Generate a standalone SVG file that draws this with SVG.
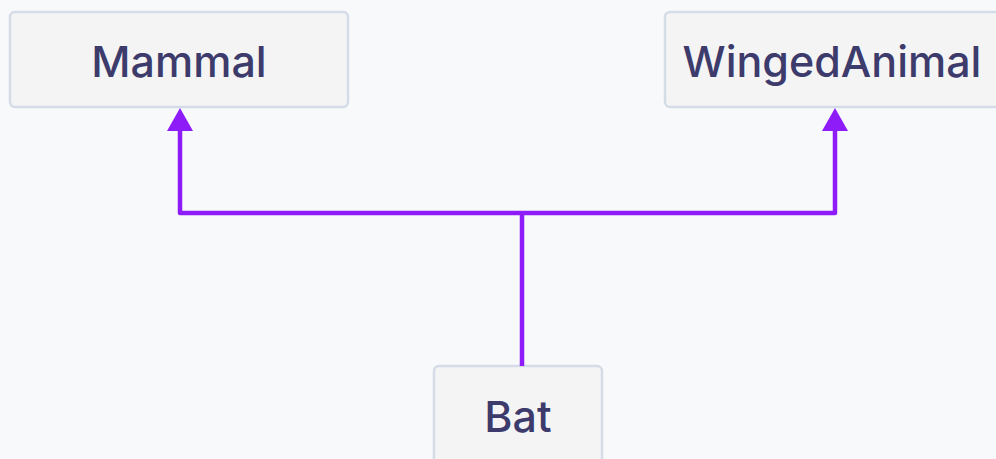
<svg xmlns="http://www.w3.org/2000/svg" width="996" height="459" viewBox="0 0 996 459">
<style>
.box{fill:#f4f4f5;stroke:#d4dce7;stroke-width:2.5}
.lbl{font-family:Inter,"Noto Sans",sans-serif;font-weight:500;font-size:43px;fill:#3c3b6b;text-anchor:middle}
.conn{fill:none;stroke:#8e1cf8;stroke-width:4.5;stroke-linejoin:round}
.head{fill:#8e1cf8}
</style>
<rect width="996" height="459" fill="#f8f9fb"/>
<g id="mammal"><rect class="box" x="10" y="12" width="338" height="95" rx="5"/><text class="lbl" x="179" y="77">Mammal</text></g>
<g id="wingedanimal"><rect class="box" x="665" y="12" width="340" height="95" rx="5"/><text class="lbl" x="832" y="77">WingedAnimal</text></g>
<g id="bat"><rect class="box" x="434" y="366" width="168" height="110" rx="5"/><text class="lbl" x="518" y="432">Bat</text></g>
<g id="connectors">
<path class="conn" d="M522 366 V213 M180 128 V213 H835 V128"/>
<polygon class="head" points="180,108 193,131 167,131"/>
<polygon class="head" points="835,108 848,131 822,131"/>
</g>
</svg>
